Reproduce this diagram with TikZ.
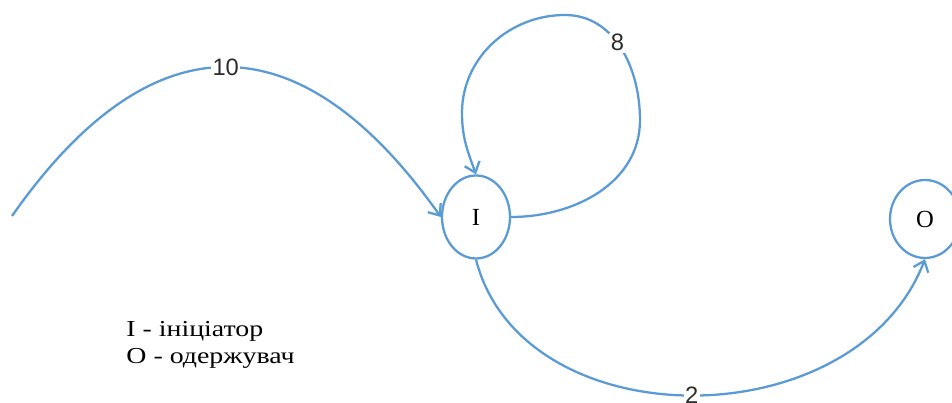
\documentclass[tikz,border=0pt]{standalone}
\usepackage{fontspec}
\setmainfont{Liberation Serif}
\newfontfamily\labelfont{Liberation Sans}
\usetikzlibrary{arrows.meta, positioning, shapes.geometric}
\definecolor{edgeblue}{RGB}{91,155,213}
\definecolor{labelgray}{RGB}{45,45,45}

\begin{document}
\begin{tikzpicture}[
    state/.style={draw=edgeblue, line width=1.3pt, ellipse, inner sep=0pt, font=\fontsize{14}{16}\selectfont},
    link/.style={draw=edgeblue, line width=1.3pt, -{Straight Barb[length=5.5pt,width=9pt]}},
    weight/.style={fill=white, inner sep=0.8pt, text=labelgray, font=\labelfont\fontsize{13.5}{15}\selectfont}
  ]
  \useasboundingbox (0,0) rectangle (19.04,8.06);

  % nodes
  \node[state, minimum width=1.36cm, minimum height=1.66cm] (I) at (9.52,3.72) {I};
  \node[state, minimum width=1.40cm, minimum height=1.56cm] (O) at (18.50,3.68) {O};
  \coordinate (src) at (0.24,3.74);

  % edges
  \draw[link] (src) .. controls (3.02,7.71) and (6.00,7.71) .. node[weight, pos=0.5] {10} (I.west);
  \draw[link] (I.east) to[out=0,in=-90] (12.80,5.66)
    to[out=90,in=0] node[weight, pos=0.55] {8} (11.30,7.76)
    to[out=180,in=90] (9.24,5.80)
    to[out=-90,in=110] (I.north);
  \draw[link] (I.south) .. controls (10.45,-0.75) and (17.10,-0.75) .. node[weight, pos=0.5] {2} (O.south);

  % legend
  \node[align=left, anchor=north west, inner sep=0pt, xscale=1.22, font=\fontsize{13}{15.3}\selectfont] (legend) at (2.52,1.64) {I - ініціатор\\O - одержувач};
\end{tikzpicture}
\end{document}
